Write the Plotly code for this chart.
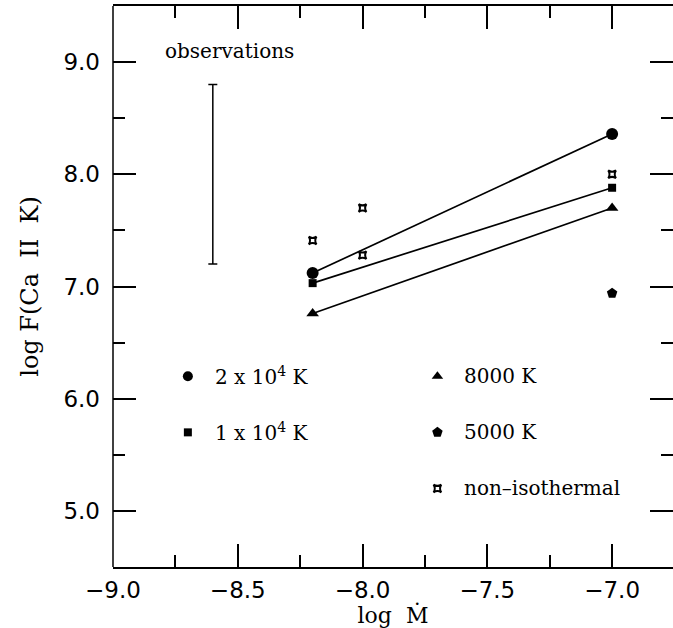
import plotly.graph_objects as go

# ---- data ----
x_models = [-8.2, -7.0]
f_2e4 = [7.12, 8.36]
f_1e4 = [7.03, 7.88]
f_8000 = [6.76, 7.70]
x_5000 = [-7.0]
f_5000 = [6.94]
x_noniso = [-8.2, -8.0, -8.0, -7.0]
f_noniso = [7.41, 7.70, 7.28, 8.00]
obs_x = [-8.6]
obs_low = 7.2
obs_high = 8.8
obs_label = "observations"

SUP4 = "<sup>4</sup>"
legend_labels = ["2 x 10" + SUP4 + " K", "1 x 10" + SUP4 + " K", "8000 K", "5000 K", "non\u2013isothermal"]
legend_x = [-8.70, -8.70, -7.70, -7.70, -7.70]
legend_y = [6.2, 5.7, 6.2, 5.7, 5.2]
legend_symbols = ["circle", "square", "triangle-up", "pentagon", "star-square-open"]
legend_sizes = [10, 8, 10, 11, 7]

x_ticks = [-9.0, -8.5, -8.0, -7.5, -7.0]
y_ticks = [5.0, 6.0, 7.0, 8.0, 9.0]

BLACK = "black"
SERIF = "DejaVu Serif"
SANS = "DejaVu Sans"

fig = go.Figure()

line_style = dict(color=BLACK, width=1.7)
fig.add_trace(go.Scatter(x=x_models, y=f_2e4, mode="lines+markers", line=line_style,
                         marker=dict(symbol="circle", size=12, color=BLACK), showlegend=False))
fig.add_trace(go.Scatter(x=x_models, y=f_1e4, mode="lines+markers", line=line_style,
                         marker=dict(symbol="square", size=8, color=BLACK), showlegend=False))
fig.add_trace(go.Scatter(x=x_models, y=f_8000, mode="lines+markers", line=line_style,
                         marker=dict(symbol="triangle-up", size=11, color=BLACK), showlegend=False))
fig.add_trace(go.Scatter(x=x_5000, y=f_5000, mode="markers",
                         marker=dict(symbol="pentagon", size=11, color=BLACK), showlegend=False))
fig.add_trace(go.Scatter(x=x_noniso, y=f_noniso, mode="markers",
                         marker=dict(symbol="star-square-open", size=7, color=BLACK,
                                     line=dict(width=2, color=BLACK)), showlegend=False))

# observations range
obs_mid = (obs_low + obs_high) / 2
fig.add_trace(go.Scatter(x=obs_x, y=[obs_mid], mode="markers",
                         marker=dict(size=1, color="rgba(0,0,0,0)"),
                         error_y=dict(type="data", symmetric=False,
                                      array=[obs_high - obs_mid], arrayminus=[obs_mid - obs_low],
                                      width=4.5, thickness=1.5, color=BLACK),
                         showlegend=False))

# in-plot key
for lx, ly, sym, sz in zip(legend_x, legend_y, legend_symbols, legend_sizes):
    mk = dict(symbol=sym, size=sz, color=BLACK)
    if sym.endswith("open"):
        mk["line"] = dict(width=2, color=BLACK)
    fig.add_trace(go.Scatter(x=[lx], y=[ly], mode="markers", marker=mk, showlegend=False))

annotations = []
for lx, ly, lab in zip(legend_x, legend_y, legend_labels):
    annotations.append(dict(x=lx + 0.10, y=ly, xref="x", yref="y", text=lab, showarrow=False,
                            xanchor="left", yanchor="middle",
                            font=dict(family=SERIF, size=20, color=BLACK)))
annotations.append(dict(x=-8.80, y=9.10, xref="x", yref="y", text=obs_label, showarrow=False,
                        xanchor="left", yanchor="middle",
                        font=dict(family=SERIF, size=20, color=BLACK)))

axis_common = dict(showgrid=False, zeroline=False, linecolor=BLACK, linewidth=1.5,
                   mirror="ticks", ticks="inside", tickcolor=BLACK, tickwidth=1.5, ticklen=23)

fig.update_layout(
    width=673, height=628,
    margin=dict(l=113, r=0, t=6, b=61),
    paper_bgcolor="white", plot_bgcolor="white",
    showlegend=False,
    annotations=annotations,
    shapes=[dict(type="line", xref="paper", yref="paper", x0=0, x1=0, y0=0, y1=1,
                 line=dict(color=BLACK, width=1.5), layer="above")],
    xaxis=dict(range=[-9.0, -6.756], tickvals=x_ticks, tickformat=".1f", showline=True,
               tickfont=dict(family=SANS, size=23, color=BLACK), ticklabelstandoff=2,
               minor=dict(dtick=0.25, tick0=-9.0, ticks="inside", ticklen=12,
                          tickwidth=1.5, tickcolor=BLACK, showgrid=False),
               title=dict(text="log\u00a0\u00a0\u1E40", font=dict(family=SERIF, size=22, color=BLACK),
                          standoff=3),
               **axis_common),
    yaxis=dict(range=[4.5, 9.5], tickvals=y_ticks, tickformat=".1f", showline=False,
               tickfont=dict(family=SANS, size=23, color=BLACK), ticklabelstandoff=12,
               minor=dict(dtick=0.5, tick0=4.5, ticks="inside", ticklen=12,
                          tickwidth=1.5, tickcolor=BLACK, showgrid=False),
               title=dict(text="log\u00a0F(Ca\u00a0\u00a0II\u00a0\u00a0K)",
                          font=dict(family=SERIF, size=24, color=BLACK), standoff=18),
               **axis_common),
)

fig.write_html("out.html")
